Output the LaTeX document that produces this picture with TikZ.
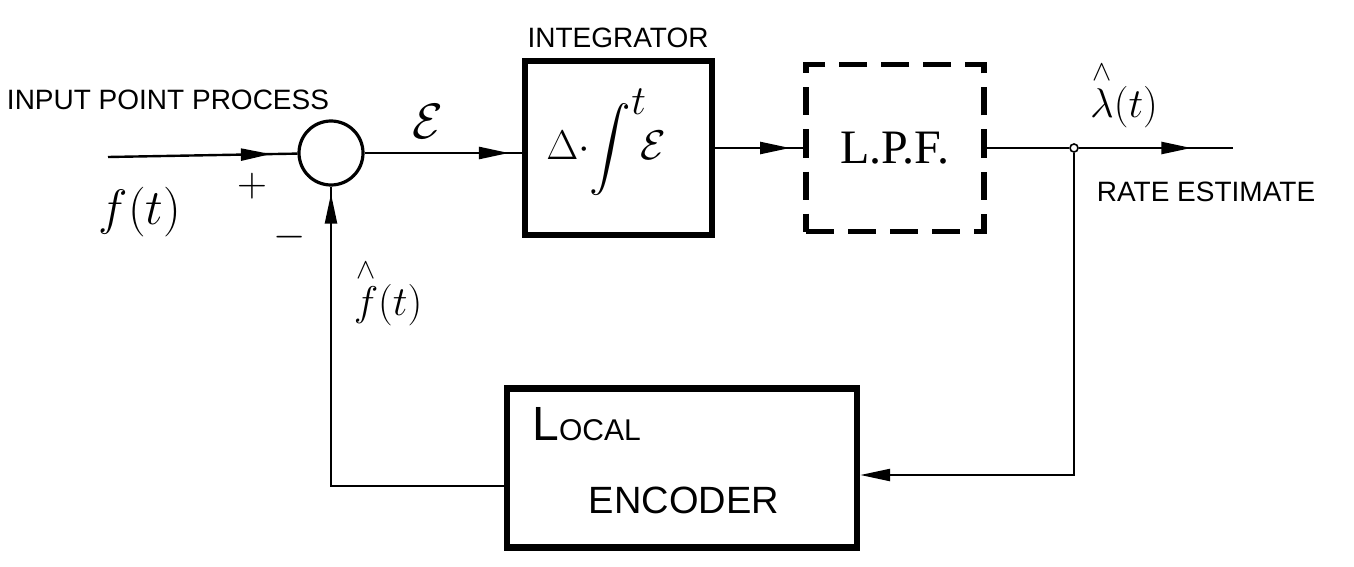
\documentclass[tikz,border=0pt]{standalone}
\usepackage{amsmath}
\usepackage{fontspec}
\setmainfont{Liberation Sans}
\newfontfamily\handserif{Liberation Serif}
\usetikzlibrary{arrows.meta, positioning, decorations.markings, calc}

\begin{document}
\begin{tikzpicture}[x=0.5pt, y=-0.5pt,
  block/.style={rectangle, draw, line width=3pt, inner sep=0pt},
  sumnode/.style={circle, draw, line width=1.6pt, minimum size=32pt, inner sep=0pt},
  junction/.style={circle, draw, line width=0.8pt, minimum size=4pt, inner sep=0pt},
  txt/.style={inner sep=0pt},
  line/.style={line width=1.2pt},
  midarrow/.style={postaction={decorate}, decoration={markings,
      mark=at position #1 with {\arrow{Triangle[length=15pt, width=6pt]}}}}
]
  \useasboundingbox (0,0) rectangle (1354,567);
  % Summing junction and input
  \coordinate (in) at (108,157);
  \node[sumnode] (sum) at (331,153) {};
  \node[txt, font=\fontsize{14}{16}\selectfont] (inlabel) at (168,100) {INPUT POINT PROCESS};
  \node[txt, font=\fontsize{24}{28}\selectfont] (fin) at (140,212) {$f(t)$};
  \node[txt, font=\fontsize{20}{24}\selectfont] (plus) at (252,186) {$+$};
  \node[txt, font=\fontsize{20}{24}\selectfont] (minus) at (290,237) {$-$};
  \node[txt, font=\fontsize{22}{26}\selectfont] (fhat) at (388,292) {$\overset{\wedge}{f}(t)$};
  \node[txt, font=\fontsize{24}{28}\selectfont] (err) at (428,121) {$\mathcal{E}$};
  % Integrator
  \node[block, minimum width=93.5pt, minimum height=87pt] (integ) at (618,148) {};
  \node[txt, font=\fontsize{21}{24}\selectfont] (integexpr) at (606,142) {$\Delta{\cdot}\!\displaystyle\int^{\textstyle t}\!\!\mathcal{E}$};
  \node[txt, font=\fontsize{14}{16}\selectfont, above=5pt of integ] (integlabel) {INTEGRATOR};
  % Low pass filter
  \node[block, line width=2.6pt, dash pattern=on 14pt off 7pt, minimum width=89pt, minimum height=83.5pt,
        font=\handserif\fontsize{24}{28}\selectfont] (lpf) at (895,148) {L.P.F.};
  % Output
  \node[junction] (split) at (1074,148) {};
  \coordinate (out) at (1233,148);
  \node[txt, font=\fontsize{22}{26}\selectfont] (lambda) at (1124,94) {$\overset{\wedge}{\lambda}(t)$};
  \node[txt, font=\fontsize{14}{16}\selectfont] (ratelabel) at (1206,192) {RATE ESTIMATE};
  % Local encoder
  \node[block, line width=3.2pt, minimum width=175pt, minimum height=79.5pt] (enc) at (682,468) {};
  \node[txt, anchor=base west] (local) at (532,440) {\fontsize{24}{28}\selectfont L\fontsize{15}{18}\selectfont OCAL};
  \node[txt, font=\fontsize{19}{22}\selectfont] (encoder) at (684,500) {ENCODER};
  % Arrows
  \draw[line, midarrow=0.86] (in) -- (sum);
  \draw[line, midarrow=0.92] (sum) -- (sum -| integ.west);
  \draw[line, midarrow=0.85] (integ) -- (lpf);
  \draw[line] (lpf) -- (split);
  \draw[line, midarrow=0.73] (split) -- (out);
  \draw[line, -{Triangle[length=15pt, width=6pt]}] (split) |- ([yshift=-3.5pt]enc.east);
  \draw[line, midarrow=0.985] ([yshift=-9pt]enc.west) -| (sum);
\end{tikzpicture}
\end{document}
